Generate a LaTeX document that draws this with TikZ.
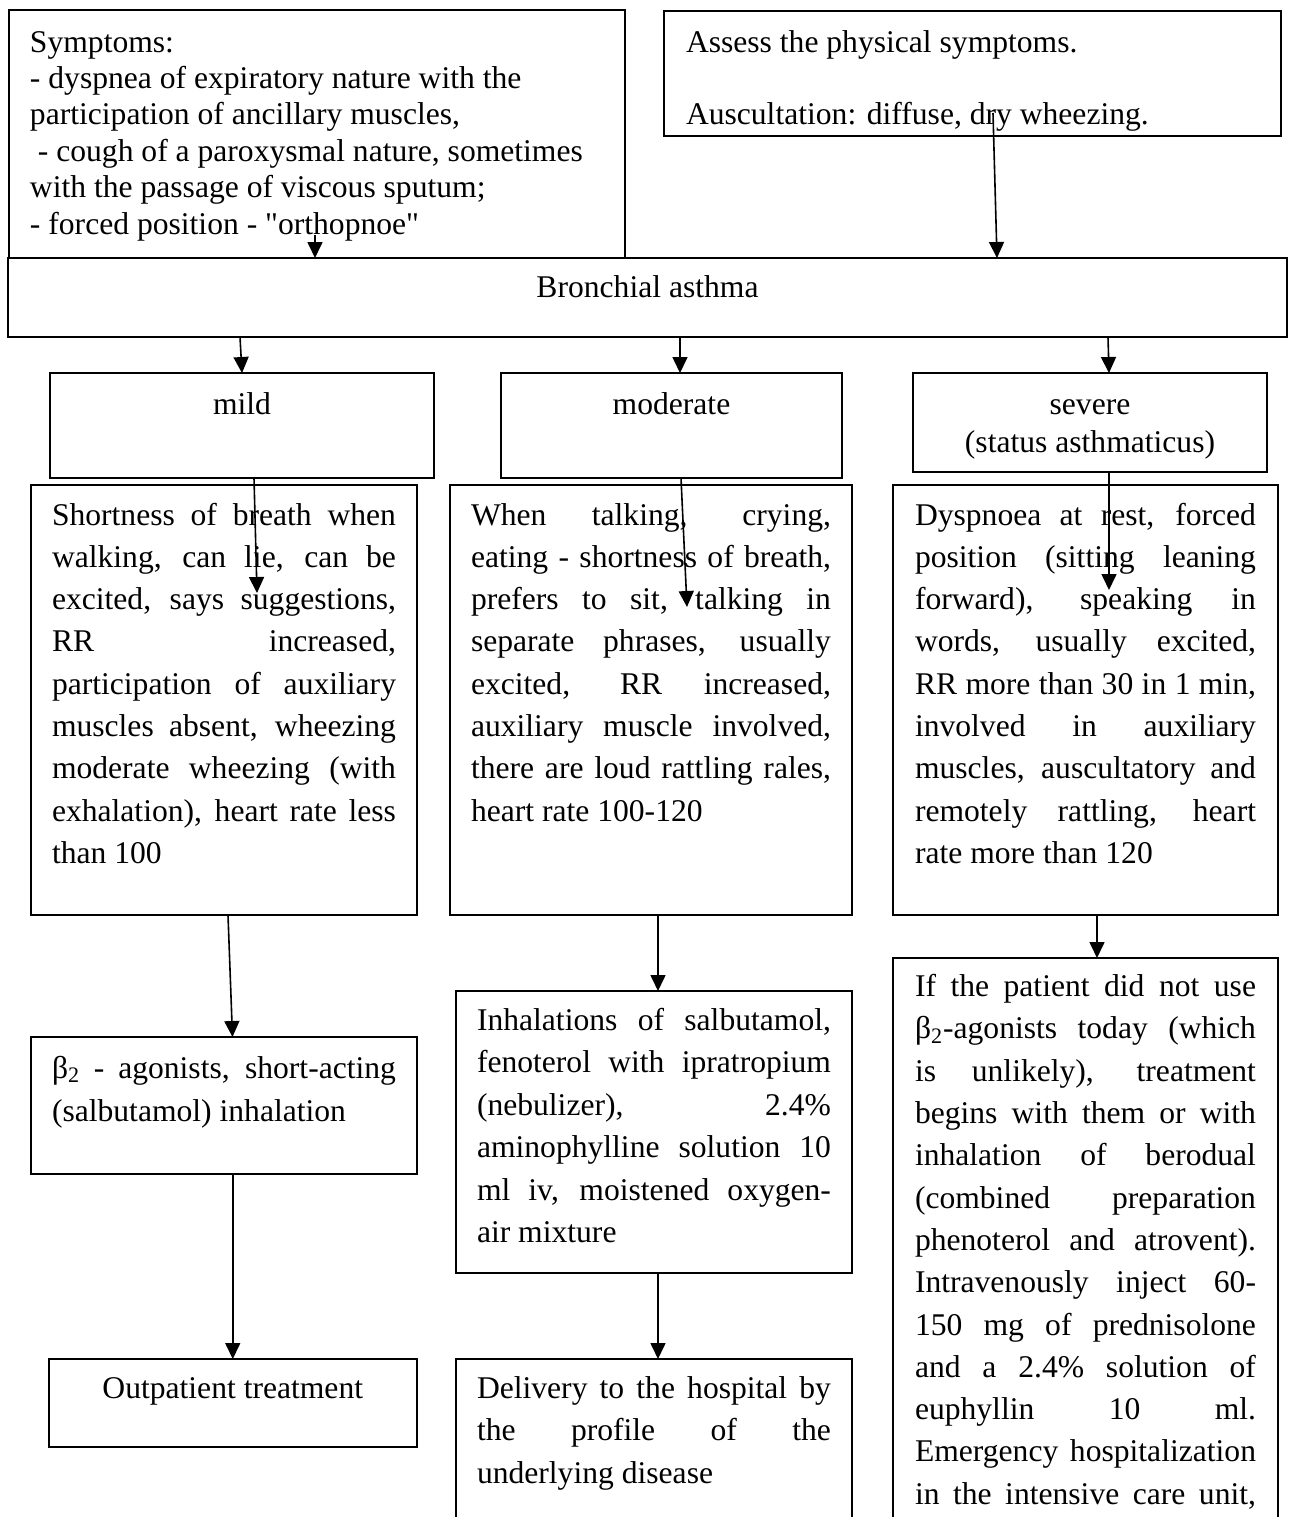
\documentclass[tikz,border=0pt]{standalone}
\usepackage{fontspec}
\setmainfont{Liberation Serif}[Ligatures=TeXOff]
\usetikzlibrary{arrows.meta}
\tolerance=10000
\hbadness=10000
\newcommand{\cellbox}[3]{\parbox[c][#2][t]{#1}{#3}}

\begin{document}
\begin{tikzpicture}[x=0.5pt, y=-0.5pt,
  squarenode/.style={draw, line width=1pt, anchor=north west, inner xsep=10.5pt, inner ysep=0pt, outer sep=0pt, font=\fontsize{15.8}{21.15}\selectfont},
  squarenodetight/.style={squarenode, font=\fontsize{15.8}{18.2}\selectfont},
  arrowline/.style={-{Triangle[length=8pt, width=7.5pt]}, line width=0.8pt}]
    \useasboundingbox (0,0) rectangle (1290,1517);
    \clip (0,0) rectangle (1290,1517);
    % Node
    \node[squarenodetight] (sym) at (9,10) {\cellbox{287pt}{124pt}{\raggedright\rule{0pt}{21pt}Symptoms:\\
      - dyspnea of expiratory nature with the\\
      participation of ancillary muscles,\\
      \hspace*{0.25em}- cough of a paroxysmal nature, sometimes\\
      with the passage of viscous sputum;\\
      - forced position - "orthopnoe"}};
    \node[squarenodetight, inner xsep=11pt] (assess) at (664,11) {\cellbox{286.5pt}{62.5pt}{\raggedright\rule{0pt}{20.5pt}Assess the physical symptoms.\\[18pt]
      Auscultation: diffuse, dry wheezing.}};
    \node[squarenode, inner xsep=0pt] (asthma) at (8,258) {\cellbox{639.5pt}{39.5pt}{\centering\rule{0pt}{19.5pt}Bronchial asthma}};
    \node[squarenode, inner xsep=0pt] (mild) at (50,373) {\cellbox{192pt}{52.5pt}{\centering\rule{0pt}{20.5pt}mild}};
    \node[squarenode, inner xsep=0pt] (moderate) at (501,373) {\cellbox{170.5pt}{52.5pt}{\centering\rule{0pt}{20.5pt}moderate}};
    \node[squarenode, inner xsep=0pt] (severe) at (913,373) {\cellbox{177pt}{49.5pt}{\centering\rule{0pt}{20.5pt}severe\\[-1.9pt]
      (status asthmaticus)}};
    \node[squarenode] (milddesc) at (31,485) {\cellbox{172pt}{215pt}{\rule{0pt}{20pt}Shortness of breath when\linebreak
      walking, can lie, can be\linebreak
      excited, says suggestions,\linebreak
      RR increased,\linebreak
      participation of auxiliary\linebreak
      muscles absent, wheezing\linebreak
      moderate wheezing (with\linebreak
      exhalation), heart rate less\linebreak
      than 100}};
    \node[squarenode] (moddesc) at (450,485) {\cellbox{180pt}{215pt}{\rule{0pt}{20pt}When talking, crying,\linebreak
      eating - shortness of breath,\linebreak
      prefers to sit, talking in\linebreak
      separate phrases, usually\linebreak
      excited, RR increased,\linebreak
      auxiliary muscle involved,\linebreak
      there are loud rattling rales,\linebreak
      heart rate 100-120}};
    \node[squarenode, inner xsep=11pt] (sevdesc) at (893,485) {\cellbox{170.5pt}{215pt}{\rule{0pt}{20pt}Dyspnoea at rest, forced\linebreak
      position (sitting leaning\linebreak
      forward), speaking in\linebreak
      words, usually excited,\linebreak
      RR more than 30 in 1 min,\linebreak
      involved in auxiliary\linebreak
      muscles, auscultatory and\linebreak
      remotely rattling, heart\linebreak
      rate more than 120}};
    \node[squarenode, font=\fontsize{15.8}{21.8}\selectfont] (beta) at (31,1037) {\cellbox{172pt}{68.5pt}{\rule{0pt}{20.5pt}β\textsubscript{2} - agonists, short-acting\linebreak
      (salbutamol) inhalation}};
    \node[squarenode, inner xsep=0pt] (outp) at (48.5,1359) {\cellbox{184.25pt}{44pt}{\centering\rule{0pt}{19.5pt}Outpatient treatment}};
    \node[squarenode, font=\fontsize{15.8}{21.25}\selectfont] (inhal) at (456,991) {\cellbox{177pt}{141pt}{\rule{0pt}{19.5pt}Inhalations of salbutamol,\linebreak
      fenoterol with ipratropium\linebreak
      (nebulizer), 2.4\%\linebreak
      aminophylline solution 10\linebreak
      ml iv, moistened oxygen-\linebreak
      air mixture}};
    \node[squarenode, font=\fontsize{15.8}{21.25}\selectfont] (deliv) at (456,1359) {\cellbox{177pt}{90.5pt}{\rule{0pt}{19.5pt}Delivery to the hospital by\linebreak
      the profile of the\linebreak
      underlying disease}};
    \node[squarenode, inner xsep=11pt] (ifbox) at (893,958) {\cellbox{170.5pt}{291pt}{\parfillskip=0pt\rule{0pt}{19.3pt}If the patient did not use\linebreak
      β\textsubscript{2}-agonists today (which\linebreak
      is unlikely), treatment\linebreak
      begins with them or with\linebreak
      inhalation of berodual\linebreak
      (combined preparation\linebreak
      phenoterol and atrovent).\linebreak
      Intravenously inject 60-\linebreak
      150 mg of prednisolone\linebreak
      and a 2.4\% solution of\linebreak
      euphyllin 10 ml.\linebreak
      Emergency hospitalization\linebreak
      in the intensive care unit,}};
    % Lines
    \draw[arrowline] ([shift={(306,-23)}]sym.south west) -- ([shift={(307,0)}]asthma.north west);
    \draw[arrowline] ([shift={(329,102)}]assess.north west) -- ([shift={(989,0)}]asthma.north west);
    \draw[arrowline] ([shift={(232,0)}]asthma.south west) -- ([shift={(192,0)}]mild.north west);
    \draw[arrowline] ([shift={(672,0)}]asthma.south west) -- ([shift={(179,0)}]moderate.north west);
    \draw[arrowline] ([shift={(1100,0)}]asthma.south west) -- ([shift={(196,0)}]severe.north west);
    \draw[arrowline] ([shift={(204,0)}]mild.south west) -- ([shift={(226,108)}]milddesc.north west);
    \draw[arrowline] ([shift={(180,0)}]moderate.south west) -- ([shift={(237,122)}]moddesc.north west);
    \draw[arrowline] ([shift={(196,0)}]severe.south west) -- ([shift={(216,105)}]sevdesc.north west);
    \draw[arrowline] ([shift={(197,0)}]milddesc.south west) -- ([shift={(201.5,0)}]beta.north west);
    \draw[arrowline] (outp.north |- beta.south) -- (outp.north);
    \draw[arrowline] ([shift={(208,0)}]moddesc.south west) -- ([shift={(202,0)}]inhal.north west);
    \draw[arrowline] ([shift={(202,0)}]inhal.south west) -- ([shift={(202,0)}]deliv.north west);
    \draw[arrowline] ([shift={(204,0)}]sevdesc.south west) -- ([shift={(204,0)}]ifbox.north west);
\end{tikzpicture}
\end{document}
